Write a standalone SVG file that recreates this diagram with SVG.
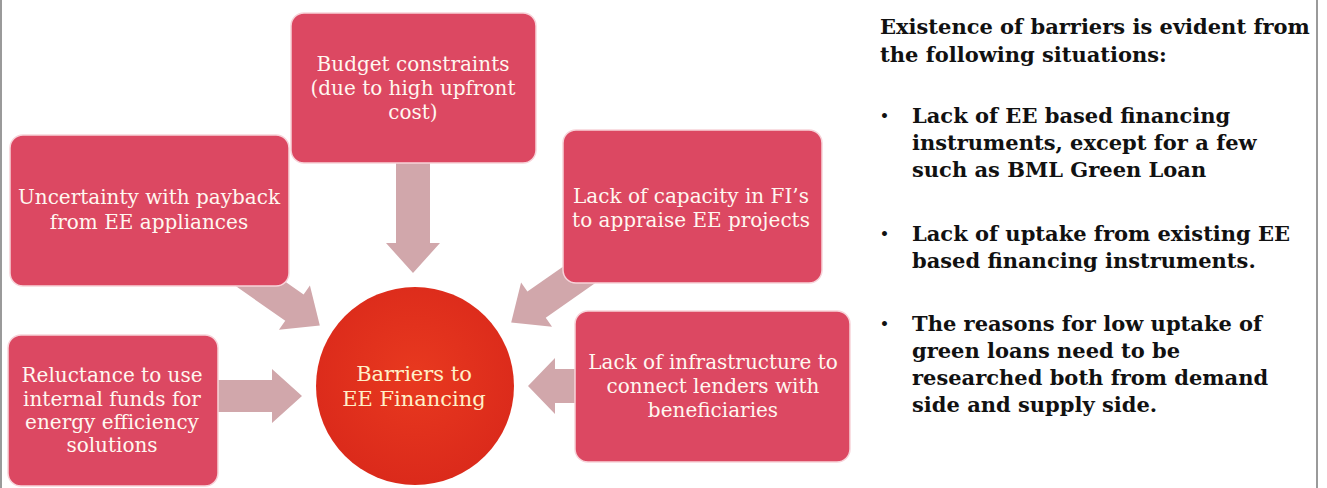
<svg xmlns="http://www.w3.org/2000/svg" width="1327" height="488" viewBox="0 0 1327 488">
  <defs>
    <style>
      .box { fill: #DC4862; stroke: #F7D3D9; stroke-width: 1.5; }
      .btxt { font-family: "DejaVu Serif", "Liberation Serif", serif; font-size: 20px; fill: #FFF7F0; text-anchor: middle; }
      .ctxt { font-family: "DejaVu Serif", "Liberation Serif", serif; font-size: 21px; fill: #FFF0C8; text-anchor: middle; }
      .arrow { fill: #D1A7AB; }
      .rtxt { font-family: "DejaVu Serif", "Liberation Serif", serif; font-size: 21px; font-weight: bold; fill: #111; }
      .bul { font-family: "DejaVu Sans", sans-serif; font-size: 14px; font-weight: bold; fill: #111; }
    </style>
    <radialGradient id="cg" cx="0.5" cy="0.45" r="0.55">
      <stop offset="0" stop-color="#E8391F"/>
      <stop offset="1" stop-color="#DB2A1B"/>
    </radialGradient>
  </defs>
  <rect x="0" y="0" width="1327" height="488" fill="#FFFFFF"/>
  <line x1="1" y1="0" x2="1" y2="488" stroke="#9A9A9A" stroke-width="2"/>
  <line x1="1317" y1="0" x2="1317" y2="488" stroke="#9A9A9A" stroke-width="2"/>

  <g id="connectors">
    <!-- from Budget (down) -->
    <path class="arrow" transform="translate(413,163) rotate(90)" d="M0,-17 L80,-17 L80,-27 L110,0 L80,27 L80,17 L0,17 Z"/>
    <!-- from Uncertainty (diagonal) -->
    <path class="arrow" transform="translate(242,271) rotate(35)" d="M0,-16 L64,-16 L64,-27 L95,0 L64,27 L64,16 L0,16 Z"/>
    <!-- from Capacity (diagonal) -->
    <path class="arrow" transform="translate(589,268) rotate(145)" d="M0,-16 L64,-16 L64,-27 L95,0 L64,27 L64,16 L0,16 Z"/>
    <!-- from Reluctance (right) -->
    <path class="arrow" transform="translate(214,396)" d="M0,-16 L58,-16 L58,-27 L88,0 L58,27 L58,16 L0,16 Z"/>
    <!-- from Infrastructure (left) -->
    <path class="arrow" transform="translate(579,386) rotate(180)" d="M0,-17 L24,-17 L24,-28 L51,0 L24,28 L24,17 L0,17 Z"/>
  </g>

  <g id="node-budget">
    <rect class="box" x="291" y="13" width="245" height="150" rx="13"/>
    <text class="btxt" x="413" y="71">Budget constraints</text>
    <text class="btxt" x="413" y="95">(due to high upfront</text>
    <text class="btxt" x="413" y="119">cost)</text>
  </g>
  <g id="node-uncertainty">
    <rect class="box" x="10" y="135" width="279" height="151" rx="13"/>
    <text class="btxt" x="149" y="204">Uncertainty with payback</text>
    <text class="btxt" x="149" y="229">from EE appliances</text>
  </g>
  <g id="node-capacity">
    <rect class="box" x="563" y="130" width="259" height="153" rx="13"/>
    <text class="btxt" x="691" y="203">Lack of capacity in FI’s</text>
    <text class="btxt" x="691" y="227">to appraise EE projects</text>
  </g>
  <g id="node-reluctance">
    <rect class="box" x="8" y="335" width="210" height="151" rx="13"/>
    <text class="btxt" x="112" y="382">Reluctance to use</text>
    <text class="btxt" x="112" y="406">internal funds for</text>
    <text class="btxt" x="112" y="429">energy efficiency</text>
    <text class="btxt" x="112" y="452">solutions</text>
  </g>
  <g id="node-infrastructure">
    <rect class="box" x="575" y="311" width="275" height="151" rx="13"/>
    <text class="btxt" x="713" y="369">Lack of infrastructure to</text>
    <text class="btxt" x="713" y="393">connect lenders with</text>
    <text class="btxt" x="713" y="417">beneficiaries</text>
  </g>
  <g id="node-center">
    <circle cx="415" cy="386" r="99" fill="url(#cg)"/>
    <text class="ctxt" x="414" y="381">Barriers to</text>
    <text class="ctxt" x="414" y="406">EE Financing</text>
  </g>

  <g id="side-text">
    <text class="rtxt" x="880" y="34">Existence of barriers is evident from</text>
    <text class="rtxt" x="880" y="62">the following situations:</text>
    <text class="bul" x="880" y="121">•</text>
    <text class="rtxt" x="912" y="123">Lack of EE based financing</text>
    <text class="rtxt" x="912" y="150">instruments, except for a few</text>
    <text class="rtxt" x="912" y="177">such as BML Green Loan</text>
    <text class="bul" x="880" y="239">•</text>
    <text class="rtxt" x="912" y="241">Lack of uptake from existing EE</text>
    <text class="rtxt" x="912" y="268">based financing instruments.</text>
    <text class="bul" x="880" y="329">•</text>
    <text class="rtxt" x="912" y="331">The reasons for low uptake of</text>
    <text class="rtxt" x="912" y="358">green loans need to be</text>
    <text class="rtxt" x="912" y="385">researched both from demand</text>
    <text class="rtxt" x="912" y="412">side and supply side.</text>
  </g>
</svg>
